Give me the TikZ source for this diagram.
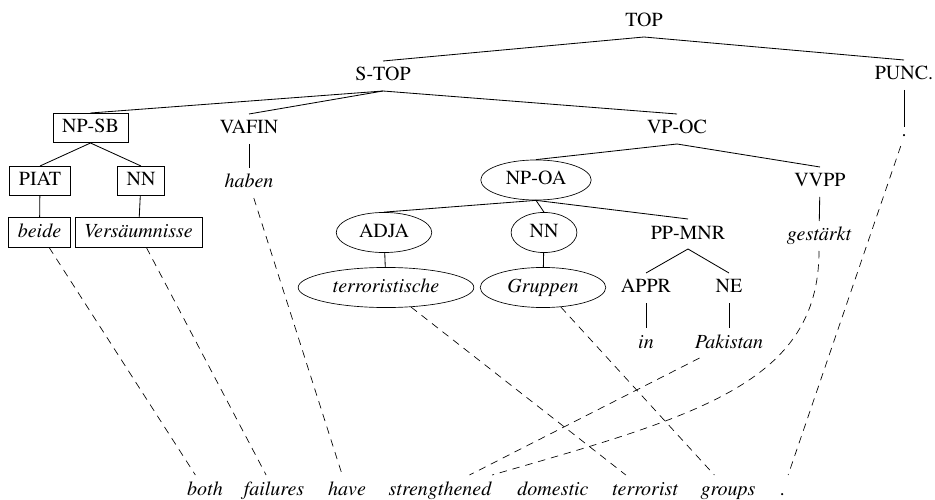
\documentclass[tikz,border=0pt]{standalone}
\usepackage[T1]{fontenc}
\usepackage{mathptmx}
\usepackage{tikz}
\usetikzlibrary{shapes}
\usetikzlibrary{calc}
\tikzstyle{cat}=[inner xsep=5.5pt, inner ysep=3.3pt, text height=8.5pt, text depth=2.5pt, font=\fontsize{12}{14}\selectfont]
\tikzstyle{word}=[cat, font=\fontsize{12}{14}\selectfont\itshape]
\tikzstyle{boxed}=[draw, rectangle]
\tikzstyle{oval}=[draw, ellipse, inner xsep=5.3pt, inner ysep=3pt]
\tikzstyle{align}=[dash pattern=on 4.5pt off 3.5pt]
\tikzstyle{edge}=[line width=0.5pt]

\begin{document}
\begin{tikzpicture}[x=0.6pt, y=-0.6pt]
\useasboundingbox (0,0) rectangle (935,500);
\node[cat] (top) at (644,22) {TOP};
\node[cat] (stop) at (383,76) {S-TOP};
\node[cat] (punc) at (904,75) {PUNC.};
\node[cat, boxed] (npsb) at (90.5,128) {NP-SB};
\node[cat] (vafin) at (249,129) {VAFIN};
\node[cat] (vpoc) at (677,129) {VP-OC};
\node[cat, boxed] (piat) at (40,181) {PIAT};
\node[cat, boxed] (nnA) at (141,181) {NN};
\node[word] (haben) at (249,183) {haben};
\node[cat, oval] (npoa) at (536,180) {NP-OA};
\node[cat] (vvpp) at (820,182) {VVPP};
\node[word, boxed] (beide) at (39.5,232.5) {beide};
\node[word, boxed] (versaeum) at (138.5,232.5) {Vers\"aumnisse};
\node[cat, oval] (adja) at (384,232.5) {ADJA};
\node[cat, oval] (nnB) at (544,232.5) {NN};
\node[cat] (ppmnr) at (688,234) {PP-MNR};
\node[word] (gest) at (819,236) {gest\"arkt};
\node[word, oval] (terr) at (386,287.5) {terroristische};
\node[word, oval] (grup) at (543,287.5) {Gruppen};
\node[cat] (appr) at (646,288) {APPR};
\node[cat] (ne) at (729,288) {NE};
\node[word] (in) at (646,343) {in};
\node[word] (pak) at (729,343) {Pakistan};
\node[cat, text height=2pt] (pdot) at (904,136.5) {.};

\node[word] (both) at (205,490) {both};
\node[word] (failures) at (274,490) {failures};
\node[word] (have) at (347,490) {have};
\node[word] (strengthened) at (440,490) {strengthened};
\node[word] (domestic) at (553,490) {domestic};
\node[word] (terrorist) at (645,490) {terrorist};
\node[word] (groups) at (728,490) {groups};
\node[word] (fstop) at (783,490) {.};

\draw[edge] (top.south) -- (stop.north);
\draw[edge] (top.south) -- (punc.north);
\draw[edge] (stop.south) -- (npsb.north);
\draw[edge] (stop.south) -- (vafin.north);
\draw[edge] (stop.south) -- (vpoc.north);
\draw[edge] (npsb.south) -- (piat.north);
\draw[edge] (npsb.south) -- (nnA.north);
\draw[edge] (piat) -- (beide);
\draw[edge] (nnA) -- (versaeum);
\draw[edge] (vafin) -- (haben);
\draw[edge] (vpoc.south) -- (npoa.north);
\draw[edge] (vpoc.south) -- (vvpp.north);
\draw[edge] (vvpp) -- (gest);
\draw[edge] (npoa.south) -- (adja.north);
\draw[edge] (npoa.south) -- (nnB.north);
\draw[edge] (npoa.south) -- (ppmnr.north);
\draw[edge] (adja) -- (terr);
\draw[edge] (nnB) -- (grup);
\draw[edge] (ppmnr.south) -- (appr.north);
\draw[edge] (ppmnr.south) -- (ne.north);
\draw[edge] (appr) -- (in);
\draw[edge] (ne) -- (pak);
\draw[edge] (punc) -- (pdot);

\draw[align] (beide) -- (both);
\draw[align] (versaeum) -- (failures);
\draw[align] (haben) -- (have);
\draw[align] (terr) -- (terrorist);
\draw[align] (grup) -- (groups);
\draw[align] (pak) -- (strengthened);
\draw[align] (gest) .. controls +(0,147) and +(257,-74) .. (strengthened);
\draw[align] (pdot) -- (fstop);
\end{tikzpicture}
\end{document}
